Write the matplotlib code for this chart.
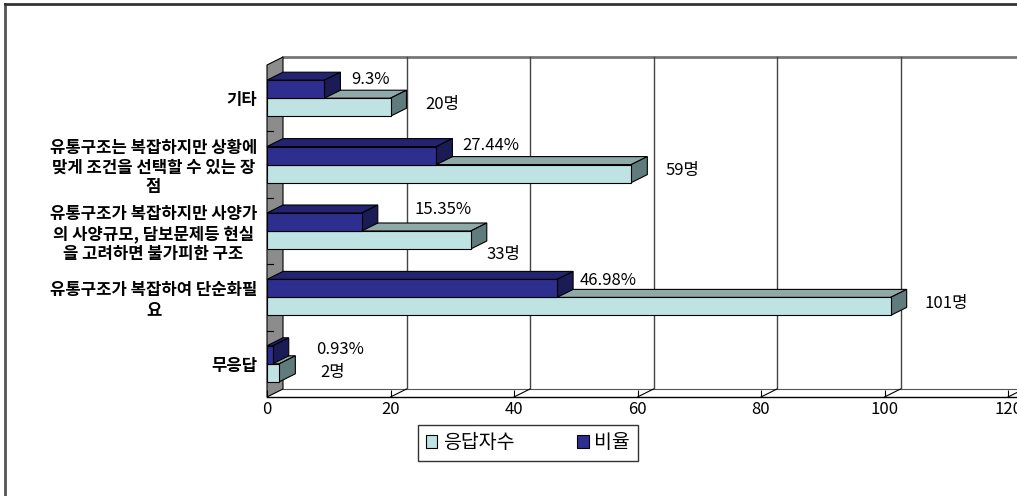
import matplotlib.pyplot as plt
from matplotlib.patches import Polygon, Patch
from matplotlib.lines import Line2D

plt.rcParams['font.family'] = ['Noto Sans CJK KR', 'DejaVu Sans']

# Survey answers, top to bottom
categories = [
    '기타',
    '유통구조는 복잡하지만 상황에\n맞게 조건을 선택할 수 있는 장\n점',
    '유통구조가 복잡하지만 사양가\n의 사양규모, 담보문제등 현실\n을 고려하면 불가피한 구조',
    '유통구조가 복잡하여 단순화필\n요',
    '무응답',
]
respondents = [20, 59, 33, 101, 2]
ratios = [9.3, 27.44, 15.35, 46.98, 0.93]
xticks = [0, 20, 40, 60, 80, 100, 120]

# label offsets (pixels) from the bar end
ratio_off = [(27, -10), (26, -10), (53, -12), (23, -8), (43, -5)]
count_off = [(35, -3), (34, -3), (16, 15), (34, -3), (41, 0)]

W, H = 1017, 496
fig = plt.figure(figsize=(W / 100, H / 100), dpi=100)
ax = fig.add_axes([267 / W, 99 / H, 741 / W, 332 / H])
ax.set_xlim(0, 120)
ax.set_ylim(len(categories) - 0.5, -0.5)
ax.patch.set_visible(False)
for s in ax.spines.values():
    s.set_visible(False)

sx = 741 / 120              # px per value unit
sy = 332 / len(categories)  # px per category
dx, dy = 16 / sx, -8 / sy   # depth offset
bh = 18 / sy                # bar thickness
y_bot = len(categories) - 0.5
y_top = -0.5
xmax = 120


def poly(pts, fc, ec='black', lw=0.8, z=1):
    ax.add_patch(Polygon(pts, closed=True, facecolor=fc, edgecolor=ec,
                         linewidth=lw, zorder=z, clip_on=False))


# back wall, side wall and floor
poly([(dx, y_top + dy), (xmax + dx + 5, y_top + dy), (xmax + dx + 5, y_bot + dy),
      (dx, y_bot + dy)], 'white', ec='none', z=0)
ax.plot([dx, xmax + dx + 5], [y_top + dy, y_top + dy], color='#777777', lw=2,
        clip_on=False, zorder=0.5)
for t in xticks[1:]:
    ax.plot([t + dx, t + dx], [y_top + dy, y_bot + dy], color='#444444', lw=1,
            clip_on=False, zorder=0.5)
poly([(0, y_bot), (xmax + 5, y_bot), (xmax + 5 + dx, y_bot + dy), (dx, y_bot + dy)],
     'white', ec='none', z=0.6)
ax.plot([0, xmax + 5], [y_bot, y_bot], color='black', lw=1, clip_on=False, zorder=0.7)
ax.plot([dx, xmax + dx + 5], [y_bot + dy, y_bot + dy], color='#555555', lw=0.8,
        clip_on=False, zorder=0.7)
for t in xticks[1:]:
    ax.plot([t, t + dx], [y_bot, y_bot + dy], color='black', lw=0.8,
            clip_on=False, zorder=0.7)
poly([(0, y_top), (dx, y_top + dy), (dx, y_bot + dy), (0, y_bot)], '#8c8c8c', z=0.8)
for b in range(len(categories) - 1):
    ax.plot([0, 6 / sx], [b + 0.5, b + 0.5], color='black', lw=0.8,
            clip_on=False, zorder=0.9)


def bar3d(yc, v, front, top, side):
    y0, y1 = yc - bh / 2, yc + bh / 2
    poly([(0, y0), (v, y0), (v + dx, y0 + dy), (dx, y0 + dy)], top, z=2)
    poly([(v, y0), (v + dx, y0 + dy), (v + dx, y1 + dy), (v, y1)], side, z=2)
    ax.barh(yc, v, height=bh, left=0, color=front, edgecolor='black',
            linewidth=0.8, zorder=2.5)


for i, (n, r) in enumerate(zip(respondents, ratios)):
    bar3d(i + bh / 2, n, '#bfe2e3', '#8fa8a8', '#5f7b7c')
    bar3d(i - bh / 2, r, '#2e2e8e', '#23236f', '#1b1b55')
    ax.annotate(f'{r}%', (r, i - bh / 2), xytext=(ratio_off[i][0] * 0.72, -ratio_off[i][1] * 0.72),
                textcoords='offset points', ha='left', va='center', fontsize=12,
                annotation_clip=False, zorder=5)
    ax.annotate(f'{n}명', (n, i + bh / 2), xytext=(count_off[i][0] * 0.72, -count_off[i][1] * 0.72),
                textcoords='offset points', ha='left', va='center', fontsize=12,
                annotation_clip=False, zorder=5)

ax.set_xticks(xticks)
ax.set_xticklabels([str(t) for t in xticks], fontsize=12)
ax.tick_params(axis='x', direction='in', length=5, width=0.8, pad=3)
ax.set_yticks(range(len(categories)))
ax.set_yticklabels(categories, fontsize=12, fontweight='bold', multialignment='center',
                   linespacing=1.12)
ax.tick_params(axis='y', length=0, pad=7)

handles = [Patch(facecolor='#bfe2e3', edgecolor='black', linewidth=0.8),
           Patch(facecolor='#2e2e8e', edgecolor='black', linewidth=0.8)]
leg = fig.legend(handles, ['응답자수', '비율'], loc='center',
                 bbox_to_anchor=(528 / W, 1 - 443 / H), ncol=2, fontsize=14,
                 frameon=True, fancybox=False, edgecolor='black', handlelength=0.6,
                 handleheight=0.6, handletextpad=0.3, columnspacing=3.2,
                 borderpad=0.4, borderaxespad=0)
leg.get_frame().set_linewidth(1)

# outer frame lines
fig.add_artist(Line2D([5 / W, 5 / W], [0, 1 - 4 / H], color='#555555', lw=2))
fig.add_artist(Line2D([5 / W, 1], [1 - 4 / H, 1 - 4 / H], color='#333333', lw=2))

fig.savefig('out.png', dpi=100)
